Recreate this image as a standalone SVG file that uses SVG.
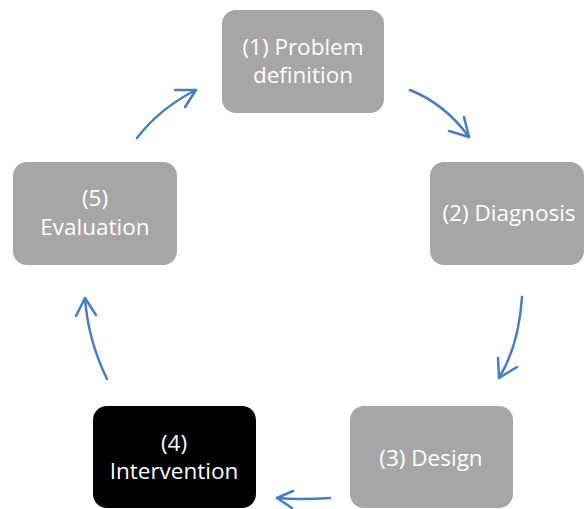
<svg xmlns="http://www.w3.org/2000/svg" width="586" height="509" viewBox="0 0 586 509">
<style>
.box{fill:#a6a6a6}
.dark{fill:#000}
.t{font-family:"Open Sans","Liberation Sans",sans-serif;font-size:22.5px;fill:#fff;text-anchor:middle}
.c{fill:none;stroke:#4a7ebb;stroke-width:2.5;stroke-linecap:round;stroke-linejoin:round}
</style>
<rect width="586" height="509" fill="#fff"/>
<g id="node1"><rect class="box" x="222" y="10" width="162" height="103" rx="14"/><text class="t" x="303" y="55">(1) Problem</text><text class="t" x="303" y="83">definition</text></g>
<g id="node2"><rect class="box" x="430" y="162" width="154" height="103" rx="14"/><text class="t" x="509" y="221">(2) Diagnosis</text></g>
<g id="node3"><rect class="box" x="350" y="406" width="163" height="102" rx="14"/><text class="t" x="431" y="466">(3) Design</text></g>
<g id="node4"><rect class="dark" x="93" y="406" width="163" height="102" rx="14"/><text class="t" x="174" y="451">(4)</text><text class="t" x="174" y="479">Intervention</text></g>
<g id="node5"><rect class="box" x="13" y="162" width="164" height="103" rx="14"/><text class="t" x="95" y="206">(5)</text><text class="t" x="95" y="235">Evaluation</text></g>
<g id="connectors">
<path class="c" d="M410,90 Q445,104 469,137"/><path class="c" d="M449,131 L469,137 L464,117"/>
<path class="c" d="M522,297 Q519,345 499,378"/><path class="c" d="M498,358 L499,378 L517,367"/>
<path class="c" d="M330,498 Q300,500 277,498"/><path class="c" d="M293,491 L277,498 L292,508"/>
<path class="c" d="M107,379 Q88,340 85,298"/><path class="c" d="M76,316 L85,298 L96,315"/>
<path class="c" d="M137,138 Q160,108 196,90"/><path class="c" d="M175,90 L196,90 L185,107"/>
</g>
</svg>
